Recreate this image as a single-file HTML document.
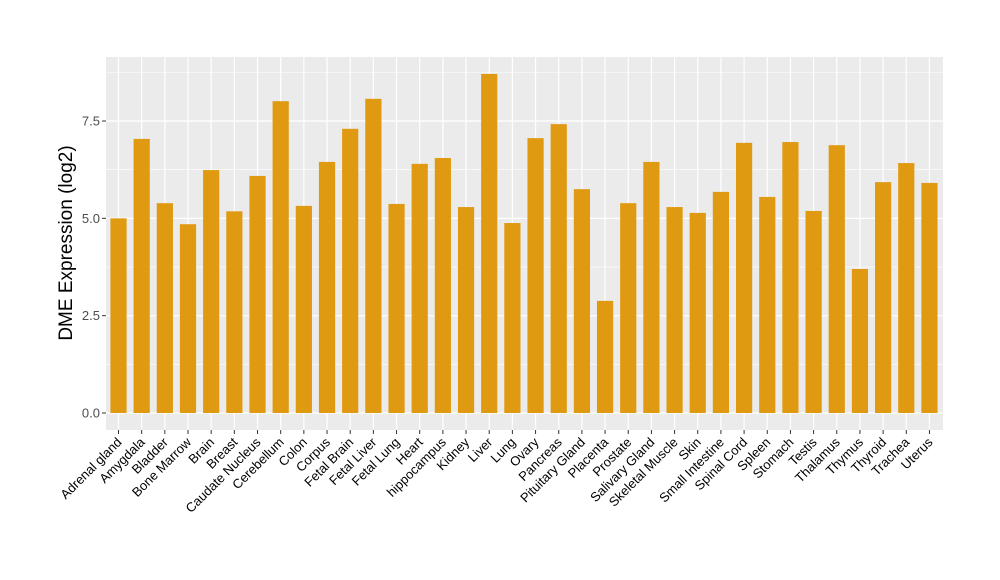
<!DOCTYPE html>
<html><head><meta charset="utf-8"><style>body{margin:0;background:#fff}svg{display:block}</style></head><body>
<svg width="1000" height="580" xmlns="http://www.w3.org/2000/svg" font-family="Liberation Sans, sans-serif">
<rect width="1000" height="580" fill="#fff"/>
<rect x="106" y="57" width="837" height="373" fill="#ebebeb"/>
<g id="grid"></g>
<g id="bars"></g>
<g id="labels"></g>
<text transform="translate(72,243) rotate(-90)" text-anchor="middle" font-size="19" fill="#000">DME Expression (log2)</text>
<script>
const ns="http://www.w3.org/2000/svg";
const names=["Adrenal gland","Amygdala","Bladder","Bone Marrow","Brain","Breast","Caudate Nucleus","Cerebellum","Colon","Corpus","Fetal Brain","Fetal Liver","Fetal Lung","Heart","hippocampus","Kidney","Liver","Lung","Ovary","Pancreas","Pituitary Gland","Placenta","Prostate","Salivary Gland","Skeletal Muscle","Skin","Small Intestine","Spinal Cord","Spleen","Stomach","Testis","Thalamus","Thymus","Thyroid","Trachea","Uterus"];
const vals=[5.0,7.04,5.39,4.85,6.24,5.18,6.09,8.01,5.32,6.45,7.30,8.07,5.37,6.40,6.55,5.29,8.71,4.88,7.06,7.42,5.75,2.88,5.39,6.45,5.29,5.14,5.68,6.94,5.55,6.96,5.19,6.88,3.70,5.93,6.42,5.91];
const y0=413,k=38.93,x0=118.5,dx=23.17;
const Y=v=>y0-v*k;
let g=document.getElementById("grid"),b=document.getElementById("bars"),l=document.getElementById("labels");
function el(p,t,a,txt){const e=document.createElementNS(ns,t);for(const i in a)e.setAttribute(i,a[i]);if(txt)e.textContent=txt;p.appendChild(e);return e;}
for(let v=1.25;v<9;v+=2.5){let y=Y(v);if(y>57)el(g,"line",{x1:106,x2:943,y1:y,y2:y,stroke:"#fff","stroke-width":0.6});}
for(let v=0;v<9;v+=2.5){let y=Y(v);el(g,"line",{x1:106,x2:943,y1:y,y2:y,stroke:"#fff","stroke-width":1.2});
el(l,"line",{x1:102,x2:106,y1:y,y2:y,stroke:"#333"});
el(l,"text",{x:100,y:y+4.5,"text-anchor":"end","font-size":13,fill:"#4d4d4d"},v.toFixed(1));}
names.forEach((n,i)=>{let x=x0+i*dx;
el(g,"line",{x1:x,x2:x,y1:57,y2:430,stroke:"#fff","stroke-width":1.2});
el(b,"rect",{x:x-8.1,y:Y(vals[i]),width:16.2,height:vals[i]*k,fill:"#e09a12"});
el(l,"line",{x1:x,x2:x,y1:430,y2:434,stroke:"#333"});
el(l,"text",{transform:`translate(${x+4},${443}) rotate(-45)`,"text-anchor":"end","font-size":13,fill:"#000"},n);
});
</script>
</svg>
</body></html>
